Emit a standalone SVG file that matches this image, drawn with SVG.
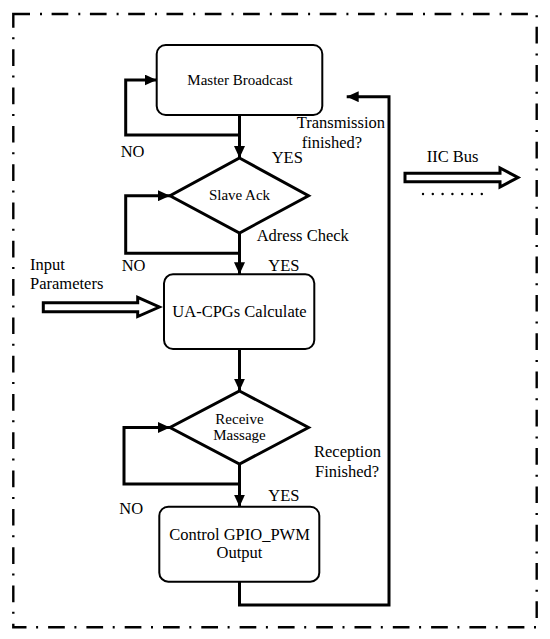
<svg xmlns="http://www.w3.org/2000/svg" width="550" height="639" viewBox="0 0 550 639">
<style>
  .box { fill: #fff; stroke: #000; stroke-width: 2; }
  .dia { fill: #fff; stroke: #000; stroke-width: 3; stroke-linejoin: miter; }
  .con { fill: none; stroke: #000; stroke-width: 3; }
  .hollow { fill: #fff; stroke: #000; stroke-width: 3; stroke-linejoin: miter; }
  .border { fill: none; stroke: #000; stroke-width: 2.4; stroke-dasharray: 16.7 10 2 9.6; }
  text { font-family: "Liberation Serif", "Times New Roman", serif; fill: #000; }
  .sm { font-size: 15px; text-anchor: middle; }
  .md { font-size: 16.5px; text-anchor: middle; }
  .lb { font-size: 16.5px; }
</style>
<defs>
  <marker id="ah" markerUnits="userSpaceOnUse" markerWidth="12" markerHeight="11" refX="12" refY="5.5" orient="auto">
    <path d="M0,0 L12,5.5 L0,11 Z" fill="#000"/>
  </marker>
</defs>
<rect width="550" height="639" fill="#fff"/>
<rect class="border" x="13.3" y="14" width="523.4" height="613.3"/>

<g id="connectors">
  <path class="con" d="M239.5,115 V158" marker-end="url(#ah)"/>
  <path class="con" d="M239.5,135 H125.7 V80 H156.7" marker-end="url(#ah)"/>
  <path class="con" d="M239.5,233 V274.3" marker-end="url(#ah)"/>
  <path class="con" d="M239.5,253.3 H125.7 V195.7 H170" marker-end="url(#ah)"/>
  <path class="con" d="M239.5,349 V390.7" marker-end="url(#ah)"/>
  <path class="con" d="M239.5,484 H124 V427.5 H170" marker-end="url(#ah)"/>
  <path class="con" d="M239.5,464 V506.7" marker-end="url(#ah)"/>
  <path class="con" d="M239.5,581.7 V605 H389 V96.7 H346.7" marker-end="url(#ah)"/>
  <polygon class="hollow" points="43.3,302.7 137.7,302.7 137.7,297.3 159.3,307 137.7,316.5 137.7,311.7 43.3,311.7"/>
  <polygon class="hollow" points="405,173.3 500,173.3 500,168 518,177.5 500,187 500,181.7 405,181.7"/>
  <g fill="#000">
    <circle cx="423" cy="194" r="1.2"/>
    <circle cx="432.8" cy="194" r="1.2"/>
    <circle cx="442.6" cy="194" r="1.2"/>
    <circle cx="452.4" cy="194" r="1.2"/>
    <circle cx="462.2" cy="194" r="1.2"/>
    <circle cx="472" cy="194" r="1.2"/>
    <circle cx="481.8" cy="194" r="1.2"/>
  </g>
</g>

<g id="master-broadcast">
  <rect class="box" x="156.7" y="45" width="165.6" height="70" rx="9"/>
  <text class="sm" x="240" y="85">Master Broadcast</text>
</g>
<g id="slave-ack">
  <polygon class="dia" points="239.5,158 308.5,195.7 239.5,233 170,195.7"/>
  <text class="sm" x="239.5" y="200">Slave Ack</text>
</g>
<g id="ua-cpgs">
  <rect class="box" x="164" y="274.3" width="150.3" height="74.7" rx="9"/>
  <text class="md" x="239.5" y="317">UA-CPGs Calculate</text>
</g>
<g id="receive-massage">
  <polygon class="dia" points="239.5,391 308.5,427.5 239.5,464 170,427.5"/>
  <text class="sm" x="239.5" y="424">Receive</text>
  <text class="sm" x="239.5" y="440">Massage</text>
</g>
<g id="control-output">
  <rect class="box" x="159.3" y="506.7" width="160" height="75" rx="9"/>
  <text class="md" x="239.5" y="540">Control GPIO_PWM</text>
  <text class="md" x="239.5" y="558">Output</text>
</g>

<g id="labels">
  <text class="lb" x="296.7" y="128">Transmission</text>
  <text class="lb" x="301.7" y="148">finished?</text>
  <text class="lb" x="120.7" y="157.3">NO</text>
  <text class="lb" x="271.7" y="163.3">YES</text>
  <text class="lb" x="426.7" y="161.7">IIC Bus</text>
  <text class="lb" x="256.7" y="240.7">Adress Check</text>
  <text class="lb" x="121.7" y="270.7">NO</text>
  <text class="lb" x="268.3" y="270.7">YES</text>
  <text class="lb" x="30" y="270">Input</text>
  <text class="lb" x="30" y="289.3">Parameters</text>
  <text class="lb" x="314" y="457.3">Reception</text>
  <text class="lb" x="315" y="477.3">Finished?</text>
  <text class="lb" x="268.3" y="500.7">YES</text>
  <text class="lb" x="119.3" y="514">NO</text>
</g>
</svg>
